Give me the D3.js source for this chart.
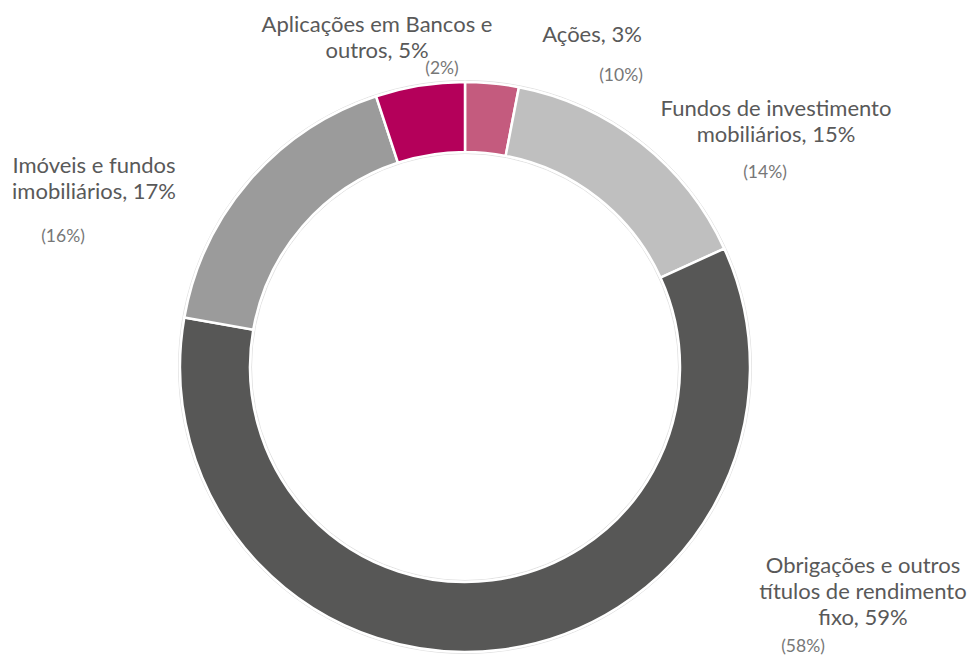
<!DOCTYPE html>
<html>
<head>
<meta charset="utf-8">
<script src="https://cdn.jsdelivr.net/npm/d3@7"></script>
<style>
  html, body { margin: 0; padding: 0; background: #ffffff; }
  svg { display: block; }
</style>
</head>
<body>
<svg id="chart" width="972" height="658"></svg>
<script>
// Asset allocation, current year share (%)
const categories = [
  "Ações",
  "Fundos de investimento mobiliários",
  "Obrigações e outros títulos de rendimento fixo",
  "Imóveis e fundos imobiliários",
  "Aplicações em Bancos e outros"
];
const shares = [3, 15, 59, 17, 5];
// Previous year share (%), shown in brackets
const previousShares = [10, 14, 58, 16, 2];
// Label lines as drawn (category text broken over lines, share appended on the last)
const labelLines = [
  ["Ações, 3%"],
  ["Fundos de investimento", "mobiliários, 15%"],
  ["Obrigações e outros", "títulos de rendimento", "fixo, 59%"],
  ["Imóveis e fundos", "imobiliários, 17%"],
  ["Aplicações em Bancos e", "outros, 5%"]
];

// Layout and style
const colors = ["#C45B7E", "#BFBFBF", "#575756", "#9B9B9B", "#B4005A"];
const cx = 465, cy = 367, outerR = 285, innerR = 215;
// label block centre x and first baseline, relative to the chart centre
const labelPos = [
  { x: 127, y: -325 },
  { x: 311, y: -251 },
  { x: 398, y: 206 },
  { x: -371, y: -194 },
  { x: -88, y: -335 }
];
const prevPos = [
  { x: 156, y: -286 },
  { x: 300, y: -189 },
  { x: 338, y: 285 },
  { x: -402, y: -125 },
  { x: -23, y: -293 }
];
const lineGap = 26;

const svg = d3.select("#chart");
const g = svg.append("g").attr("transform", `translate(${cx},${cy})`);

const pie = d3.pie().sort(null).value(d => d)
  .startAngle(0).endAngle(2 * Math.PI);
const arc = d3.arc().innerRadius(innerR).outerRadius(outerR);

// faint rims around the ring
g.append("circle").attr("r", outerR + 1.5)
  .attr("fill", "none").attr("stroke", "#e2e2e2").attr("stroke-width", 1);
g.append("circle").attr("r", innerR - 1.5)
  .attr("fill", "none").attr("stroke", "#e2e2e2").attr("stroke-width", 1);

g.selectAll("path.slice")
  .data(pie(shares))
  .join("path")
  .attr("class", "slice")
  .attr("d", arc)
  .attr("fill", (d, i) => colors[i])
  .attr("stroke", "#ffffff")
  .attr("stroke-width", 2.5)
  .attr("stroke-linejoin", "miter");

const fontFamily = "Lato, 'Open Sans', sans-serif";

labelLines.forEach((lines, i) => {
  const t = g.append("text")
    .attr("text-anchor", "middle")
    .attr("font-family", fontFamily)
    .attr("font-size", 22)
    .attr("fill", "#595959");
  lines.forEach((ln, j) => {
    t.append("tspan")
      .attr("x", labelPos[i].x)
      .attr("y", labelPos[i].y + j * lineGap)
      .text(ln);
  });
});

g.selectAll("text.prev")
  .data(previousShares)
  .join("text")
  .attr("class", "prev")
  .attr("x", (d, i) => prevPos[i].x)
  .attr("y", (d, i) => prevPos[i].y)
  .attr("text-anchor", "middle")
  .attr("font-family", fontFamily)
  .attr("font-size", 17.5)
  .attr("fill", "#777777")
  .text(d => `(${d}%)`);
</script>
</body>
</html>
